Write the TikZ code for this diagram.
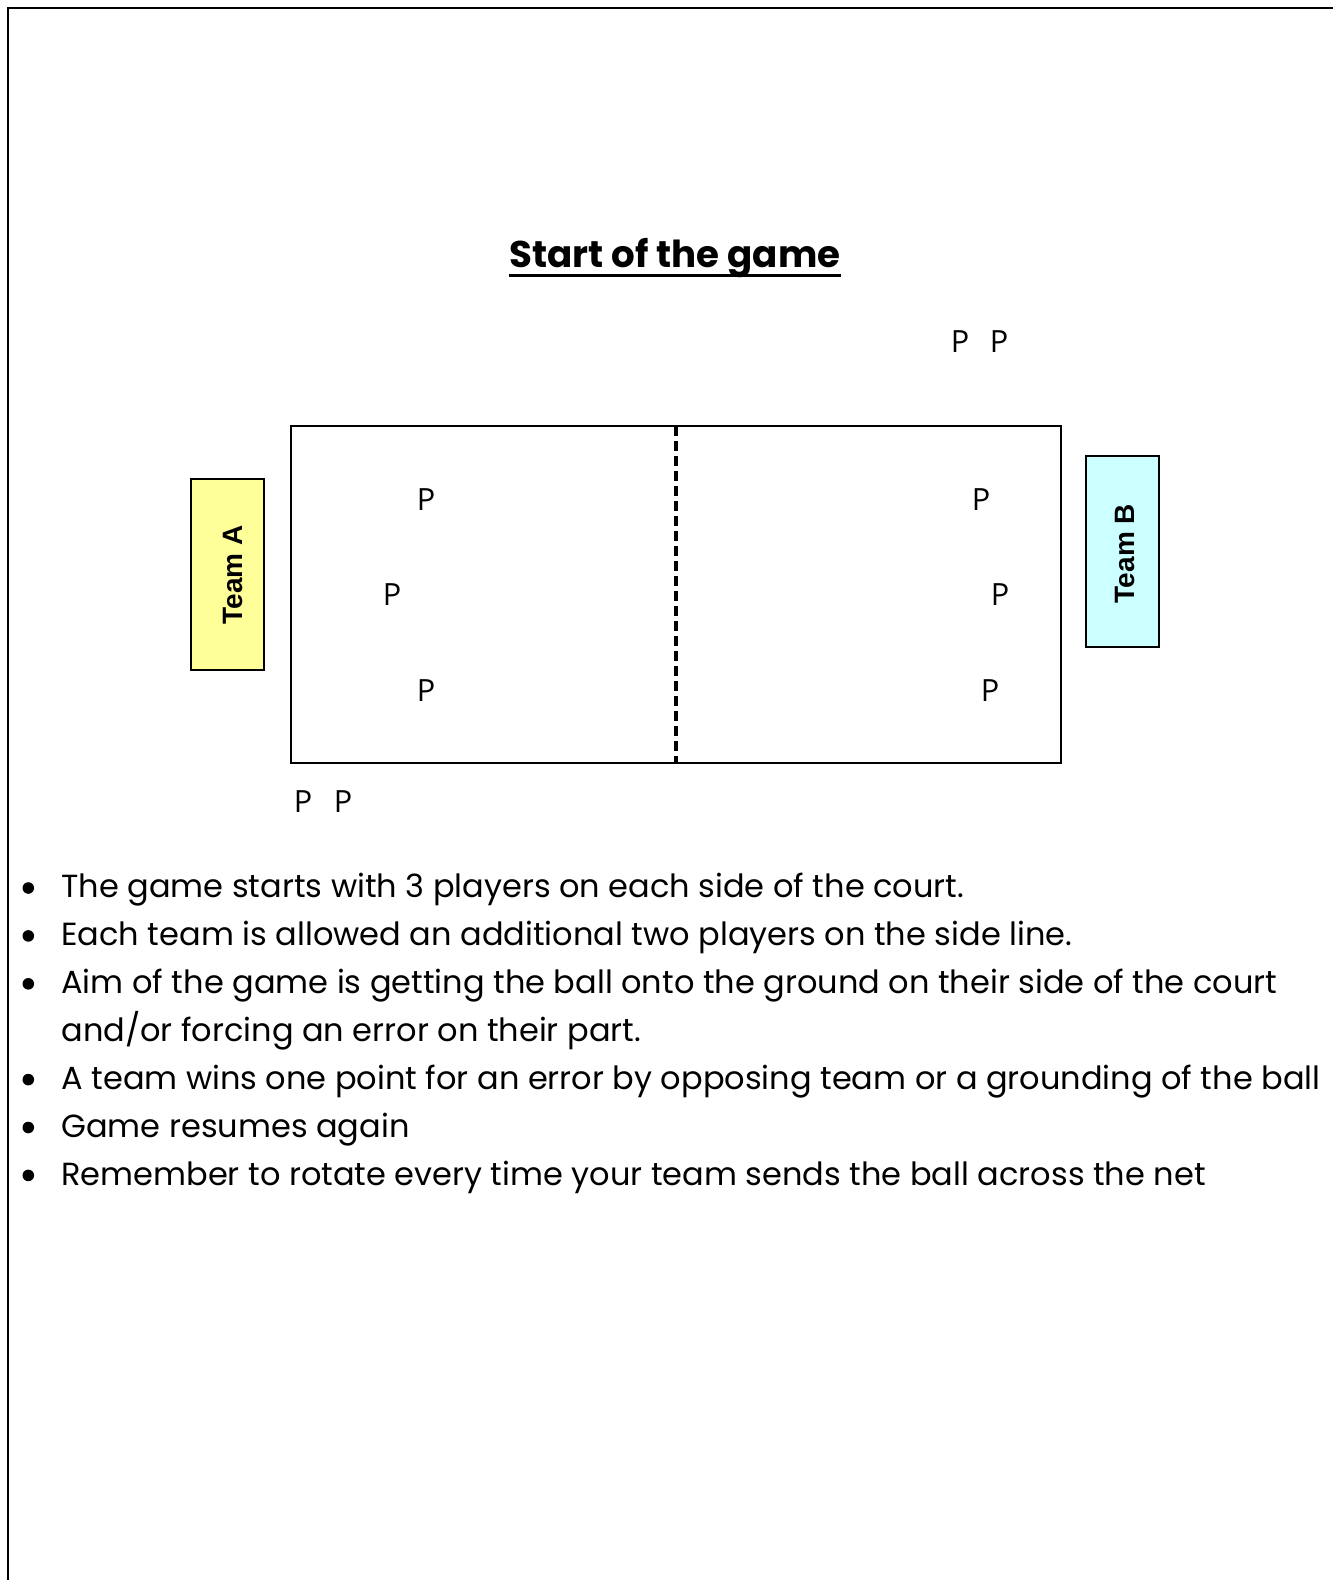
\documentclass[tikz,border=0pt]{standalone}
\usepackage{fontspec}
\setmainfont{Poppins}
\newfontfamily\playerfont{Open Sans}
\newfontfamily\teamfont{Liberation Sans}
\usetikzlibrary{positioning}
\definecolor{teamA}{HTML}{FFFF99}
\definecolor{teamB}{HTML}{CCFFFF}

\begin{document}
\begin{tikzpicture}[x=0.5pt,y=-0.5pt,
  player/.style={font=\playerfont\fontsize{15.3pt}{18pt}\selectfont,inner sep=0pt},
  bench/.style={draw=black,line width=0.8pt,minimum width=36.5pt,minimum height=95.5pt,inner sep=0pt},
  teamlbl/.style={font=\teamfont\bfseries\fontsize{14pt}{16pt}\selectfont,rotate=90,inner sep=0pt},
  rule/.style={font=\fontsize{16pt}{19pt}\selectfont,anchor=base west,inner sep=0pt},
  dot/.style={circle,fill=black,inner sep=0pt,minimum size=5.8pt}]

  \useasboundingbox (0,0) rectangle (1333,1580);
  % page frame
  \draw[line width=1.25pt] (8,1600) -- (8,8) -- (1350,8);

  % title
  \node[font=\bfseries\fontsize{18.6pt}{22pt}\selectfont,anchor=base,inner sep=0pt] (title) at (675,267) {Start of the game};
  \draw[line width=1.3pt] ([yshift=-4.1pt]title.base west) -- ([yshift=-4.1pt]title.base east);

  % court and net
  \draw[line width=0.9pt] (291,426) rectangle (1061,763);
  \coordinate (nettop) at (676,426);
  \coordinate (netbot) at (676,763);
  \draw[line width=1.7pt,dash pattern=on 5pt off 2.5pt] (nettop) -- (netbot);

  % team benches
  \node[bench,fill=teamA] (benchA) at (227.5,574.5) {};
  \node[teamlbl] (teamA) at (233,575) {Team A};
  \node[bench,fill=teamB] (benchB) at (1122.5,551.5) {};
  \node[teamlbl] (teamB) at (1125,553.5) {Team B};

  % players on court
  \node[player] (a1) at (426,500) {P};
  \node[player] (a2) at (392,595) {P};
  \node[player] (a3) at (426,691) {P};
  \node[player] (b1) at (981,500) {P};
  \node[player] (b2) at (1000,595) {P};
  \node[player] (b3) at (990,691) {P};
  % players on the side line
  \node[player] (bs1) at (960,342) {P};
  \node[player] (bs2) at (999,342) {P};
  \node[player] (as1) at (303,802) {P};
  \node[player] (as2) at (343,802) {P};

  % rules
  \node[rule] (r1) at (61,897.7) {The game starts with 3 players on each side of the court.};
  \node[rule] (r2) at (61,945.6) {Each team is allowed an additional two players on the side line.};
  \node[rule] (r3) at (61,993.5) {Aim of the game is getting the ball onto the ground on their side of the court};
  \node[rule] (r3b) at (61,1041.4) {and/or forcing an error on their part.};
  \node[rule] (r4) at (61,1089.3) {A team wins one point for an error by opposing team or a grounding of the ball};
  \node[rule] (r5) at (61,1137.2) {Game resumes again};
  \node[rule] (r6) at (61,1185.1) {Remember to rotate every time your team sends the ball across the net};
  \node[dot] at (28.3,888) {};
  \node[dot] at (28.3,935.9) {};
  \node[dot] at (28.3,983.8) {};
  \node[dot] at (28.3,1079.6) {};
  \node[dot] at (28.3,1127.5) {};
  \node[dot] at (28.3,1175.4) {};
\end{tikzpicture}
\end{document}
